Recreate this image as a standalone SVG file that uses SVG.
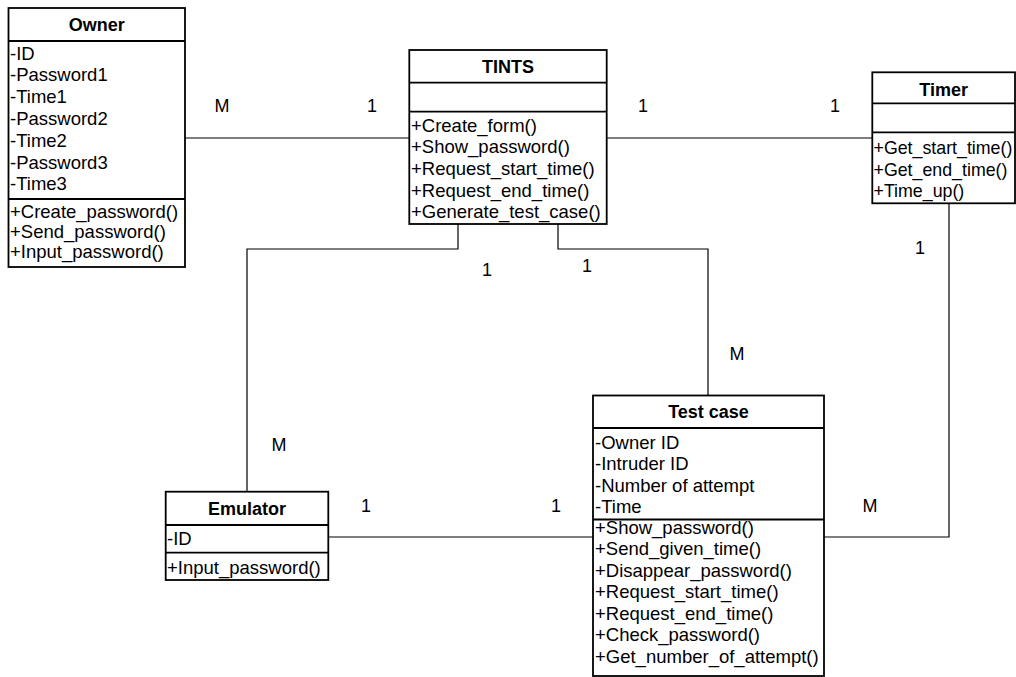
<svg xmlns="http://www.w3.org/2000/svg" width="1016" height="677" viewBox="0 0 1016 677">
  <style>
    .box { fill: #ffffff; stroke: #000000; stroke-width: 1.8; }
    .sep { stroke: #000000; stroke-width: 1.8; }
    .conn { fill: none; stroke: #000000; stroke-width: 1.2; }
    text { font-family: "Liberation Sans", Arial, sans-serif; font-size: 18.5px; fill: #000000; }
    .title { font-weight: bold; text-anchor: middle; font-size: 18px; }
    .mult { text-anchor: middle; font-size: 18px; }
    .narrow { font-size: 17.8px; }
  </style>
  <rect width="1016" height="677" fill="#ffffff"/>

  <!-- associations -->
  <g id="connectors">
    <path class="conn" d="M185,138 H409"/>
    <path class="conn" d="M607,138 H872"/>
    <path class="conn" d="M458,224 V249 H247 V491"/>
    <path class="conn" d="M558,224 V249 H708 V395"/>
    <path class="conn" d="M329,537 H593"/>
    <path class="conn" d="M949,203 V537 H824"/>
  </g>

  <!-- multiplicities -->
  <g id="multiplicities">
    <text class="mult" x="222" y="112">M</text>
    <text class="mult" x="372" y="112">1</text>
    <text class="mult" x="643" y="112">1</text>
    <text class="mult" x="835" y="112">1</text>
    <text class="mult" x="487" y="276">1</text>
    <text class="mult" x="587" y="272">1</text>
    <text class="mult" x="920" y="254">1</text>
    <text class="mult" x="737" y="360">M</text>
    <text class="mult" x="279" y="451">M</text>
    <text class="mult" x="366" y="512">1</text>
    <text class="mult" x="556" y="512">1</text>
    <text class="mult" x="870" y="512">M</text>
  </g>

  <g id="owner">
    <rect class="box" x="8.5" y="8" width="176.5" height="259"/>
    <line class="sep" x1="8.5" y1="41" x2="185" y2="41"/>
    <line class="sep" x1="8.5" y1="199" x2="185" y2="199"/>
    <text class="title" x="96.7" y="30.5">Owner</text>
    <text x="10" y="59.5">-ID</text>
    <text x="10" y="81.3">-Password1</text>
    <text x="10" y="103.1">-Time1</text>
    <text x="10" y="124.9">-Password2</text>
    <text x="10" y="146.7">-Time2</text>
    <text x="10" y="168.5">-Password3</text>
    <text x="10" y="190.3">-Time3</text>
    <text x="10" y="218">+Create_password()</text>
    <text x="10" y="238">+Send_password()</text>
    <text x="10" y="258">+Input_password()</text>
  </g>

  <g id="tints">
    <rect class="box" x="409.3" y="50" width="197.4" height="174"/>
    <line class="sep" x1="409.3" y1="82.7" x2="606.7" y2="82.7"/>
    <line class="sep" x1="409.3" y1="111.7" x2="606.7" y2="111.7"/>
    <text class="title" x="508" y="72.5">TINTS</text>
    <text x="411" y="131.5">+Create_form()</text>
    <text x="411" y="153.2">+Show_password()</text>
    <text x="411" y="174.5">+Request_start_time()</text>
    <text x="411" y="196.5">+Request_end_time()</text>
    <text x="411" y="218.2">+Generate_test_case()</text>
  </g>

  <g id="timer">
    <rect class="box" x="872.3" y="72.3" width="142.7" height="131"/>
    <line class="sep" x1="872.3" y1="103.3" x2="1015" y2="103.3"/>
    <line class="sep" x1="872.3" y1="132.3" x2="1015" y2="132.3"/>
    <text class="title" x="943.6" y="95.5">Timer</text>
    <text class="narrow" x="873.5" y="153.8">+Get_start_time()</text>
    <text class="narrow" x="873.5" y="175.5">+Get_end_time()</text>
    <text class="narrow" x="873.5" y="196.5">+Time_up()</text>
  </g>

  <g id="emulator">
    <rect class="box" x="165.7" y="491.7" width="162.6" height="88.3"/>
    <line class="sep" x1="165.7" y1="525" x2="328.3" y2="525"/>
    <line class="sep" x1="165.7" y1="552.7" x2="328.3" y2="552.7"/>
    <text class="title" x="247" y="514.5">Emulator</text>
    <text x="167" y="544.5">-ID</text>
    <text x="167" y="573.8">+Input_password()</text>
  </g>

  <g id="test-case">
    <rect class="box" x="593" y="395.5" width="231" height="280.5"/>
    <line class="sep" x1="593" y1="428" x2="824" y2="428"/>
    <line class="sep" x1="593" y1="519.5" x2="824" y2="519.5"/>
    <text class="title" x="708.5" y="418">Test case</text>
    <text x="595" y="448.5">-Owner ID</text>
    <text x="595" y="470">-Intruder ID</text>
    <text x="595" y="491.5">-Number of attempt</text>
    <text x="595" y="513">-Time</text>
    <text x="595" y="533.5">+Show_password()</text>
    <text x="595" y="555">+Send_given_time()</text>
    <text x="595" y="576.5">+Disappear_password()</text>
    <text x="595" y="598">+Request_start_time()</text>
    <text x="595" y="619.5">+Request_end_time()</text>
    <text x="595" y="641">+Check_password()</text>
    <text x="595" y="662.5">+Get_number_of_attempt()</text>
  </g>
</svg>
